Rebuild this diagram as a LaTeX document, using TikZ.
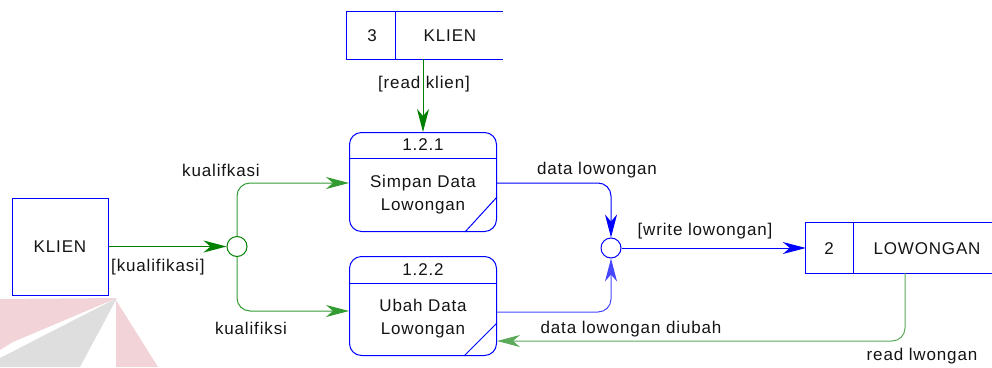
\documentclass[tikz,border=0pt]{standalone}
\usepackage{fontspec}
\setmainfont{Liberation Sans}[LetterSpace=5]
\usetikzlibrary{arrows.meta}
\definecolor{dblue}{RGB}{0,0,255}
\definecolor{lblue}{RGB}{70,70,255}
\definecolor{dgreen}{RGB}{0,128,0}
\definecolor{lgreen}{RGB}{50,155,50}
\definecolor{pgreen}{RGB}{90,170,90}
\definecolor{wpink}{RGB}{242,212,216}
\definecolor{wgray}{RGB}{222,222,222}
\definecolor{txt}{RGB}{20,20,20}
\begin{document}
\begin{tikzpicture}[x=1pt,y=-1pt,
  font=\fontsize{17}{23}\selectfont, text=txt,
  ent/.style={draw=dblue, line width=1pt, minimum width=96pt, minimum height=97pt, inner sep=0pt},
  proc/.style={draw=dblue, line width=1pt, rounded corners=12pt, minimum width=147pt, minimum height=99pt, inner sep=0pt},
  junc/.style={circle, line width=1pt, minimum size=20pt, inner sep=0pt, fill=white},
  store/.style={inner sep=0pt},
  sline/.style={draw=dblue, line width=1pt},
  tip/.style={-{Stealth[length=23pt,width=12pt,inset=7pt]}},
  gflow/.style={draw=#1, line width=1pt, tip, rounded corners=13pt},
  bflow/.style={draw=#1, line width=1pt, tip, rounded corners=13pt},
  lbl/.style={inner sep=0pt},
  body/.style={inner sep=0pt, align=center}
]
\useasboundingbox (0,0) rectangle (992,367);
% watermark
\fill[wpink] (0,299) -- (117,298) -- (13,342) -- (0,350) -- cycle;
\fill[wgray] (117,298) -- (0,358) -- (0,367) -- (80,367) -- cycle;
\fill[wpink] (116,300) -- (158,367) -- (116,367) -- cycle;

% external entity
\node[ent] (ext) at (60,246.5) {KLIEN};

% junctions
\node[junc, draw=dgreen] (j1) at (237,246.5) {};
\node[junc, draw=dblue] (j2) at (611,248) {};

% processes
\node[proc] (p121) at (423,182) {};
\draw[sline] ([yshift=-26pt]p121.north west) -- ([yshift=-26pt]p121.north east);
\draw[sline] ([yshift=35pt]p121.south east) -- ([xshift=-32pt]p121.south east);
\node[lbl] (p121n) at ([yshift=-13pt]p121.north) {1.2.1};
\node[body] (p121b) at (423,194.5) {Simpan Data\\Lowongan};

\node[proc] (p122) at (423,306) {};
\draw[sline] ([yshift=-27pt]p122.north west) -- ([yshift=-27pt]p122.north east);
\draw[sline] ([yshift=33pt]p122.south east) -- ([xshift=-33pt]p122.south east);
\node[lbl] (p122n) at ([yshift=-13.5pt]p122.north) {1.2.2};
\node[body] (p122b) at (423,318.5) {Ubah Data\\Lowongan};

% data store 3 KLIEN
\node[store, minimum width=156pt, minimum height=47pt] (ds3) at (425,35.5) {};
\draw[sline] (ds3.north east) -- (ds3.north west) -- (ds3.south west) -- (ds3.south east);
\draw[sline] ([xshift=49pt]ds3.north west) -- ([xshift=49pt]ds3.south west);
\node[lbl] (ds3n) at (372,36) {3};
\node[lbl] (ds3t) at (450,36) {KLIEN};

% data store 2 LOWONGAN
\node[store, minimum width=186pt, minimum height=50pt] (ds2) at (899,248) {};
\draw[sline] (ds2.north east) -- (ds2.north west) -- (ds2.south west) -- (ds2.south east);
\draw[sline] ([xshift=48pt]ds2.north west) -- ([xshift=48pt]ds2.south west);
\node[lbl] (ds2n) at (829,249) {2};
\node[lbl] (ds2t) at (927,249) {LOWONGAN};

% flows
\draw[gflow=dgreen] (ext.east) -- (j1.west);
\draw[gflow=lgreen] (j1.north) |- ([yshift=-1pt]p121.west);
\draw[gflow=lgreen] (j1.south) |- ([yshift=-5pt]p122.west);
\draw[gflow=dgreen] (p121.north |- ds3.south) -- (p121.north);
\draw[bflow=dblue] ([yshift=-1pt]p121.east) -| (j2.north);
\draw[bflow=lblue] ([yshift=-6pt]p122.east) -| (j2.south);
\draw[bflow=dblue] (j2.east) -- (ds2.west);
\draw[gflow=pgreen] ([xshift=6pt]ds2.south) |- ([yshift=-35pt]p122.east);

% labels
\node[lbl] (l1) at (221,170) {kualifkasi};
\node[lbl, anchor=west] (l2) at (111,267) {[kualifikasi]};
\node[lbl] (l3) at (251,328) {kualifiksi};
\node[lbl] (l4) at (424,84) {[read klien]};
\node[lbl] (l5) at (597,170) {data lowongan};
\node[lbl] (l6) at (705,231) {[write lowongan]};
\node[lbl] (l7) at (631,329) {data lowongan diubah};
\node[lbl] (l8) at (922,356) {read lwongan};
\end{tikzpicture}
\end{document}
